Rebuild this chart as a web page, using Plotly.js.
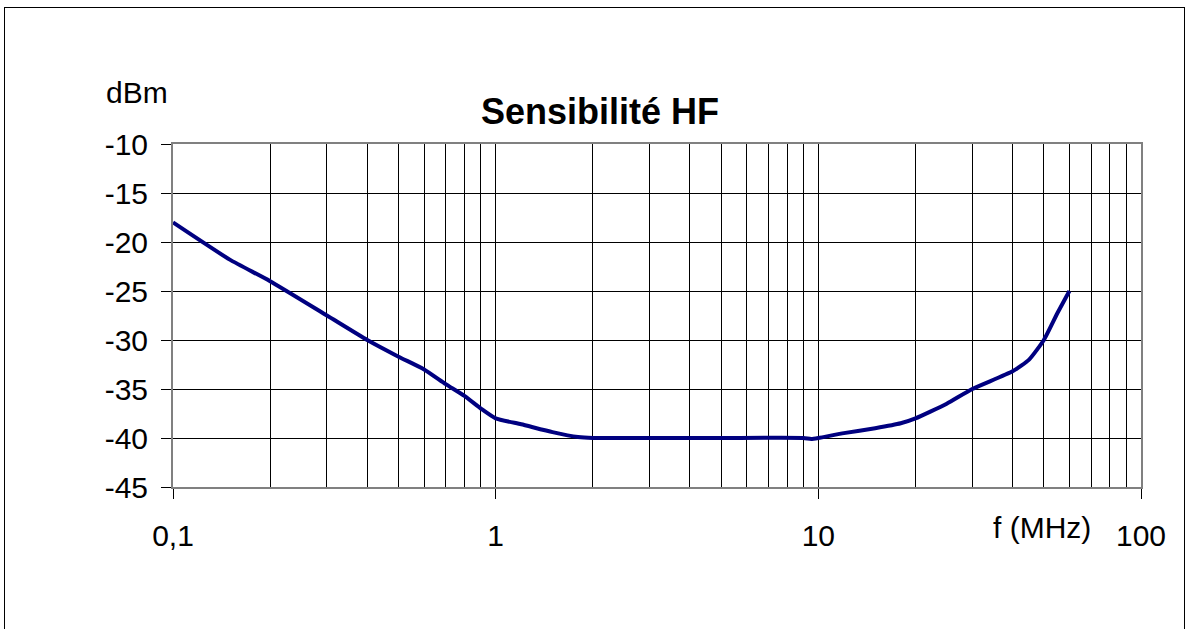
<!DOCTYPE html>
<html>
<head>
<meta charset="utf-8">
<script src="https://cdn.plot.ly/plotly-3.0.1.min.js"></script>
<style>
  html, body { margin: 0; padding: 0; background: #fff; }
  #frame { position: absolute; left: 4px; top: 7px; width: 1181px; height: 700px; border: 1px solid #000; box-sizing: border-box; }
  #chart { position: absolute; left: 0; top: 0; width: 1190px; height: 629px; }
</style>
</head>
<body>
<div id="frame"></div>
<div id="chart"></div>
<script>
// Frequency (MHz)
const freqMHz = [0.1, 0.15, 0.2, 0.3, 0.4, 0.5, 0.6, 0.7, 0.8, 0.9, 1, 1.2, 1.5, 1.8, 2, 3, 5, 9, 9.5, 10, 12, 15, 18, 20, 25, 30, 40, 45, 50, 55, 60];
// Sensitivity (dBm)
const sensDbm = [-18, -21.8, -24, -27.5, -30, -31.7, -33, -34.5, -35.7, -37, -38, -38.6, -39.4, -39.9, -40, -40, -40, -40, -40.1, -40, -39.5, -39, -38.5, -38, -36.5, -35, -33.2, -32, -30, -27.3, -25];

// Y tick values and labels (hyphen-minus as in the original)
const yTickVals = [-45, -40, -35, -30, -25, -20, -15, -10];
const yTickText = ['-45', '-40', '-35', '-30', '-25', '-20', '-15', '-10'];

const chartTitle = 'Sensibilité HF';
const yUnit = 'dBm';
const xUnit = 'f (MHz)';

const font = 'Liberation Sans, Arial, sans-serif';

const trace = {
  x: freqMHz,
  y: sensDbm,
  type: 'scatter',
  mode: 'lines',
  line: { color: '#000080', width: 4, shape: 'spline', smoothing: 0.5 },
  hoverinfo: 'x+y'
};

const layout = {
  width: 1190,
  height: 629,
  margin: { l: 173, r: 49, t: 144, b: 142 },
  paper_bgcolor: 'rgba(0,0,0,0)',
  plot_bgcolor: '#fff',
  showlegend: false,
  separators: ', ',
  font: { family: font, size: 30, color: '#000' },
  xaxis: {
    type: 'log',
    range: [-1, 2],
    tickmode: 'linear',
    tick0: 0,
    dtick: 1,
    ticks: 'outside',
    ticklen: 10,
    tickcolor: '#000',
    tickwidth: 1,
    ticklabelstandoff: 11,
    tickfont: { family: font, size: 30, color: '#000' },
    showgrid: true,
    gridcolor: '#000',
    gridwidth: 1,
    minor: { dtick: 'D1', showgrid: true, gridcolor: '#000', gridwidth: 1, ticks: '' },
    showline: true,
    linecolor: '#808080',
    linewidth: 2,
    mirror: true,
    zeroline: false
  },
  yaxis: {
    range: [-45, -10],
    tickmode: 'array',
    tickvals: yTickVals,
    ticktext: yTickText,
    ticks: 'outside',
    ticklen: 10,
    tickcolor: '#000',
    tickwidth: 1,
    ticklabelstandoff: 7,
    tickfont: { family: font, size: 30, color: '#000' },
    showgrid: true,
    gridcolor: '#000',
    gridwidth: 1,
    showline: true,
    linecolor: '#808080',
    linewidth: 2,
    mirror: true,
    zeroline: false
  },
  annotations: [
    { text: '<b>' + chartTitle + '</b>', xref: 'paper', yref: 'paper', x: (600 - 173) / 968, y: (487 - 112) / 343,
      xanchor: 'center', yanchor: 'middle', showarrow: false, font: { family: font, size: 36, color: '#000' } },
    { text: yUnit, xref: 'paper', yref: 'paper', x: (137 - 173) / 968, y: (487 - 92) / 343,
      xanchor: 'center', yanchor: 'middle', showarrow: false, font: { family: font, size: 30, color: '#000' } },
    { text: xUnit, xref: 'paper', yref: 'paper', x: (1042 - 173) / 968, y: (487 - 527) / 343,
      xanchor: 'center', yanchor: 'middle', showarrow: false, font: { family: font, size: 30, color: '#000' } }
  ]
};

Plotly.newPlot('chart', [trace], layout, { displayModeBar: false, staticPlot: true });
</script>
</body>
</html>
